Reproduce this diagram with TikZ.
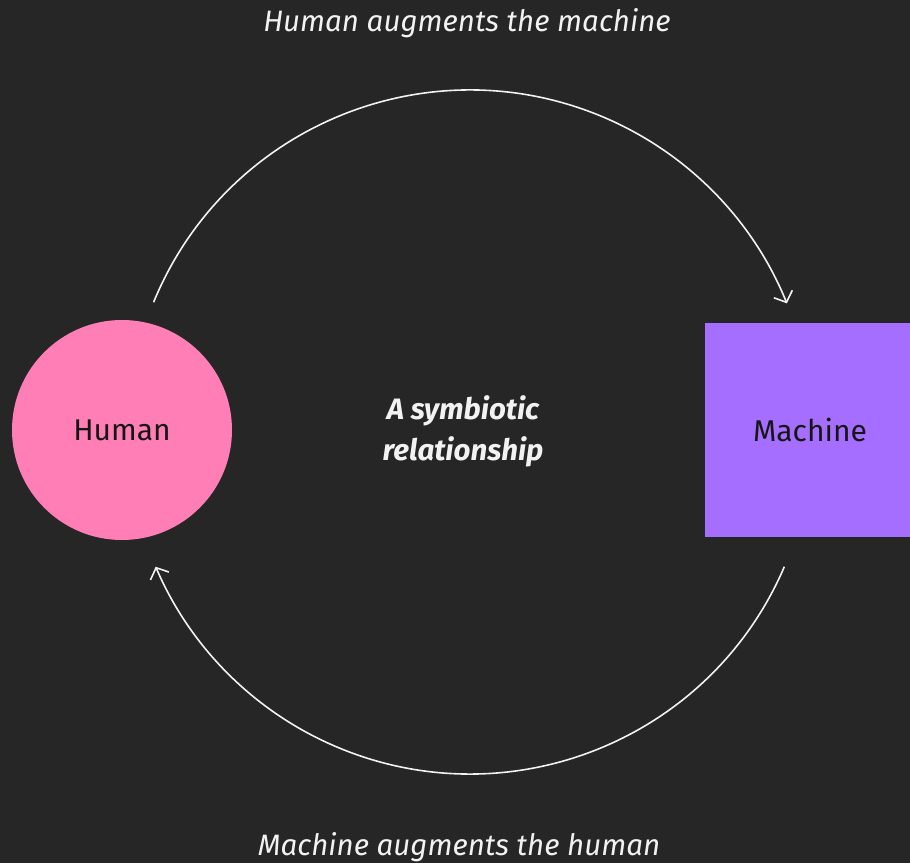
\documentclass[tikz,border=0pt]{standalone}
\usepackage{fontspec}
\setmainfont{Fira Sans}
\definecolor{darkbg}{HTML}{262626}
\definecolor{softpink}{HTML}{FF7EB6}
\definecolor{softpurple}{HTML}{A56EFF}
\definecolor{inkdark}{HTML}{161616}
\definecolor{labelgrey}{HTML}{F2F2F2}
\usetikzlibrary{arrows.meta,positioning,calc}

\begin{document}
\begin{tikzpicture}[x=1pt, y=1pt,
      loop/.style={-{Straight Barb[length=9pt,width=20pt]}, draw=labelgrey, line width=1.6pt},
      actor/.style={text=inkdark, font=\fontsize{30}{34}\selectfont, inner sep=0pt},
      caption/.style={text=labelgrey, font=\fontsize{29.5}{34}\selectfont\itshape}
    ]
    \fill[darkbg] (0,0) rectangle (910,863);
    \useasboundingbox (0,0) rectangle (910,863);
    \coordinate (hub) at (470,431);
    \node[actor, circle, fill=softpink, minimum size=220pt] (human) at (122,433) {Human};
    \node[actor, fill=softpurple, minimum size=214pt] (machine) at (812,433) {};
    \node[actor] (machinetext) at (810,433) {Machine};
    \node[caption, font=\fontsize{29.5}{41}\selectfont\bfseries\itshape, align=center] (core) at (463,432)
      {A symbiotic\\relationship};
    \node[caption] (toplabel) at (467,840) {Human augments the machine};
    \node[caption] (botlabel) at (459,16) {Machine augments the human};
    % the two halves of the loop
    \draw[loop] ($(hub)+(157.7:342)$) arc[start angle=157.7, end angle=22.1, radius=342];
    \draw[loop] ($(hub)+(-23.2:342)$) arc[start angle=-23.2, end angle=-156.8, radius=342];
  \end{tikzpicture}
\end{document}
